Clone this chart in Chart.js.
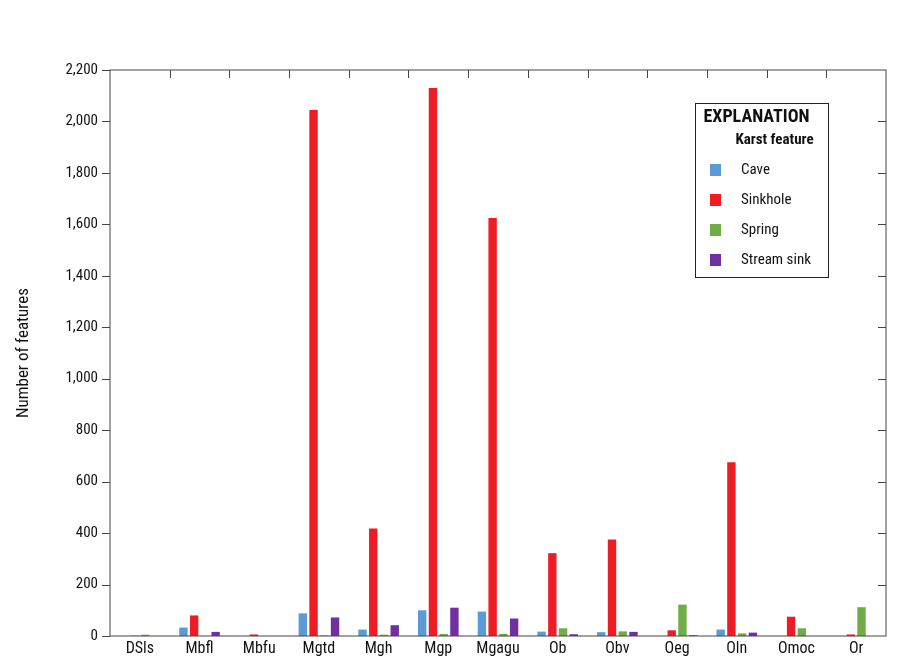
<!DOCTYPE html>
<html><head><meta charset="utf-8">
<script src="https://cdn.jsdelivr.net/npm/chart.js@4"></script>
<style>body{margin:0;background:#fff}#w{width:900px;height:658px}</style>
</head><body><div id="w"><canvas id="c"></canvas></div>
<script>
const categories=["DSls","Mbfl","Mbfu","Mgtd","Mgh","Mgp","Mgagu","Ob","Obv","Oeg","Oln","Omoc","Or"];
const cave=[0,33,0,88,25,100,95,17,15,0,25,0,0];
const sinkhole=[1,80,6,2045,418,2130,1625,322,375,22,675,75,6];
const spring=[5,0,0,2,5,8,8,30,18,122,10,30,112];
const streamSink=[0,16,0,72,42,110,68,7,16,3,13,0,0];
const seriesNames=["Cave","Sinkhole","Spring","Stream sink"];
const colors=["#5b9bd5","#ee1c25","#70ad47","#7030a0"];
const FONT="'Liberation Sans Narrow','Roboto Condensed',Roboto,sans-serif";
const frame={id:'frame',afterDraw(ch){
 const {ctx,chartArea:a,scales:{x,y}}=ch;ctx.save();ctx.strokeStyle='#444';ctx.lineWidth=1;
 ctx.strokeRect(a.left,a.top,a.right-a.left,a.bottom-a.top);
 const n=categories.length,w=(a.right-a.left)/n;
 ctx.beginPath();
 for(let i=1;i<n;i++){const px=Math.round(a.left+i*w)+0.5;ctx.moveTo(px,a.top);ctx.lineTo(px,a.top+8);}
 for(let v=200;v<2200;v+=200){const py=Math.round(y.getPixelForValue(v))+0.5;ctx.moveTo(a.right,py);ctx.lineTo(a.right-8,py);}
 for(let v=0;v<=2200;v+=200){const py=Math.round(y.getPixelForValue(v))+0.5;ctx.moveTo(a.left,py);ctx.lineTo(a.left-8,py);}
 ctx.stroke();
 const lx=695,ly=103,lw=133,lh=174;ctx.strokeStyle='#222';ctx.strokeRect(lx+0.5,ly+0.5,lw,lh);
 ctx.fillStyle='#111';ctx.textBaseline='middle';
 ctx.font="bold 18px "+FONT;ctx.textAlign='center';ctx.fillText('EXPLANATION',lx+lw/2-5,ly+14);
 ctx.font="bold 15px "+FONT;ctx.fillText('Karst feature',lx+lw/2+13,ly+37);
 ctx.font="15px "+FONT;ctx.textAlign='left';
 seriesNames.forEach((s,i)=>{const yy=ly+67+i*30;ctx.fillStyle=colors[i];ctx.fillRect(lx+15,yy-6,11,12);ctx.fillStyle='#111';ctx.fillText(s,lx+46,yy);});
 ctx.restore();}};
new Chart(document.getElementById('c'),{type:'bar',
 data:{labels:categories,datasets:[cave,sinkhole,spring,streamSink].map((d,i)=>({label:seriesNames[i],data:d,backgroundColor:colors[i],categoryPercentage:0.72,barPercentage:0.78}))},
 options:{responsive:true,maintainAspectRatio:false,animation:false,
  layout:{padding:{left:10,right:14,top:70,bottom:0}},
  plugins:{legend:{display:false},tooltip:{enabled:false}},
  scales:{
   x:{grid:{display:false,drawTicks:false},border:{display:false},ticks:{color:'#111',font:{family:FONT,size:16},padding:3},afterFit(s){s.height=22;}},
   y:{min:0,max:2200,grid:{display:false,drawTicks:false},border:{display:false},
      afterBuildTicks(s){s.ticks=[];for(let v=0;v<=2200;v+=200)s.ticks.push({value:v});},
      afterFit(s){s.width=100;},
      ticks:{color:'#111',font:{family:FONT,size:15},padding:12,callback:v=>v.toLocaleString('en-US')},
      title:{display:true,text:'Number of features',color:'#111',font:{family:FONT,size:17}}}
  }},
 plugins:[frame]
});
</script></body></html>
